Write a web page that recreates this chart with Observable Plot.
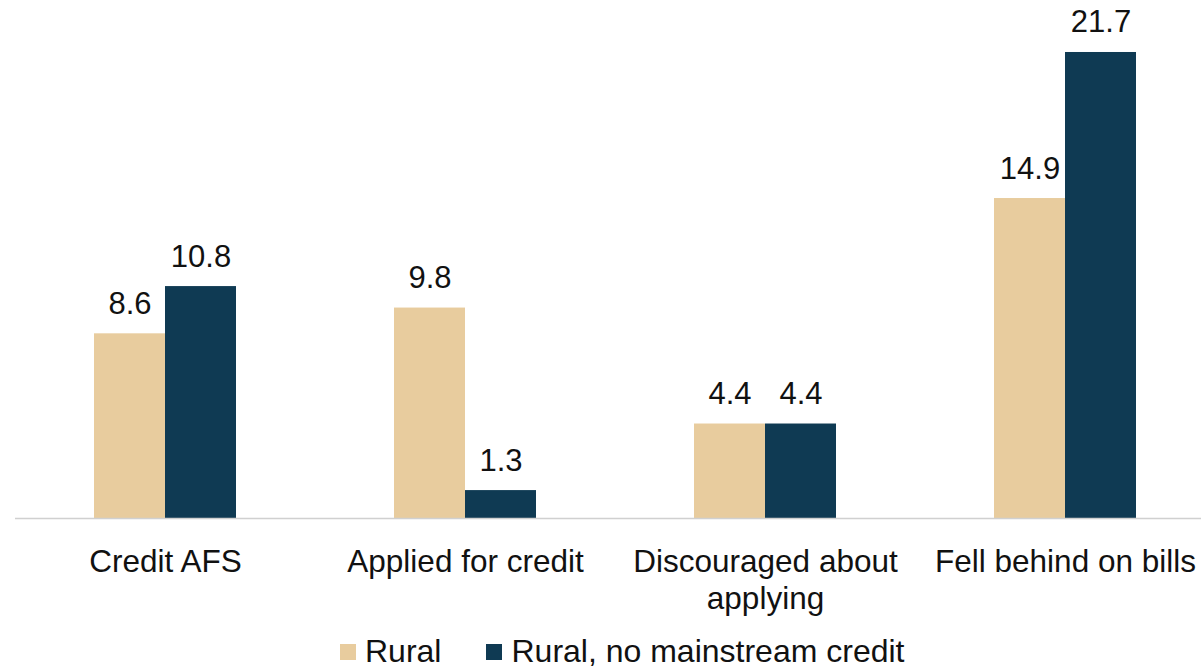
<!DOCTYPE html>
<html>
<head>
<meta charset="utf-8">
<script src="https://cdn.jsdelivr.net/npm/d3@7"></script>
<script src="https://cdn.jsdelivr.net/npm/@observablehq/plot@0.6"></script>
<style>
  html, body { margin: 0; padding: 0; background: #fff; overflow: hidden; width: 1201px; height: 670px; }
  #chart { position: relative; width: 1201px; }
  .legend { position: absolute; left: 340px; top: 633px; display: flex; align-items: center;
            font-family: "Liberation Sans", Arial, sans-serif; font-size: 32px; color: #111; }
  .legend .item { display: flex; align-items: center; margin-right: 45px; }
  .legend .sw { width: 16px; height: 16px; margin-right: 9px; }
</style>
</head>
<body>
<div id="chart"></div>
<script>
const groups = ["Credit AFS", "Applied for credit", "Discouraged about applying", "Fell behind on bills"];
const groupLabels = ["Credit AFS", "Applied for credit", "Discouraged about\napplying", "Fell behind on bills"];
const series = ["Rural", "Rural, no mainstream credit"];
const rural = [8.6, 9.8, 4.4, 14.9];
const ruralNoCredit = [10.8, 1.3, 4.4, 21.7];
const colors = ["#E8CC9E", "#0F3A53"];

const rows = [];
groups.forEach((g, i) => {
  rows.push({group: g, series: series[0], value: rural[i]});
  rows.push({group: g, series: series[1], value: ruralNoCredit[i]});
});
const labelOf = new Map(groups.map((g, i) => [g, groupLabels[i]]));

const font = "'Liberation Sans', Arial, sans-serif";
const chart = Plot.plot({
  width: 1201,
  height: 632,
  marginLeft: 15,
  marginRight: 0,
  marginTop: 0,
  marginBottom: 114,
  style: {fontFamily: font, fontSize: "31px", color: "#111", background: "#fff", overflow: "visible"},
  fx: {domain: groups, range: [15, 1215], padding: 0, label: null},
  x: {domain: series, paddingInner: 0, paddingOuter: 1.1, axis: null},
  y: {domain: [0, 24.0], range: [518, 2.6], axis: null},
  color: {domain: series, range: colors},
  marks: [
    Plot.barY(rows, {fx: "group", x: "series", y: "value", fill: "series"}),
    Plot.ruleY([0], {stroke: "#D0D0D0", strokeWidth: 1.5}),
    Plot.text(rows, {fx: "group", x: "series", y: "value", text: d => d.value.toFixed(1),
      lineAnchor: "bottom", dy: -20, fontSize: 31, fill: "#111"}),
    Plot.axisFx({anchor: "bottom", tickSize: 0, tickPadding: 27, fontSize: 31.5, lineHeight: 1.18,
      tickFormat: g => labelOf.get(g), label: null, fill: "#111"})
  ]
});
document.getElementById("chart").appendChild(chart);

const legend = document.createElement("div");
legend.className = "legend";
series.forEach((s, i) => {
  const item = document.createElement("div");
  item.className = "item";
  const sw = document.createElement("span");
  sw.className = "sw";
  sw.style.background = colors[i];
  const t = document.createElement("span");
  t.textContent = s;
  item.appendChild(sw); item.appendChild(t);
  legend.appendChild(item);
});
document.getElementById("chart").appendChild(legend);
</script>
</body>
</html>
